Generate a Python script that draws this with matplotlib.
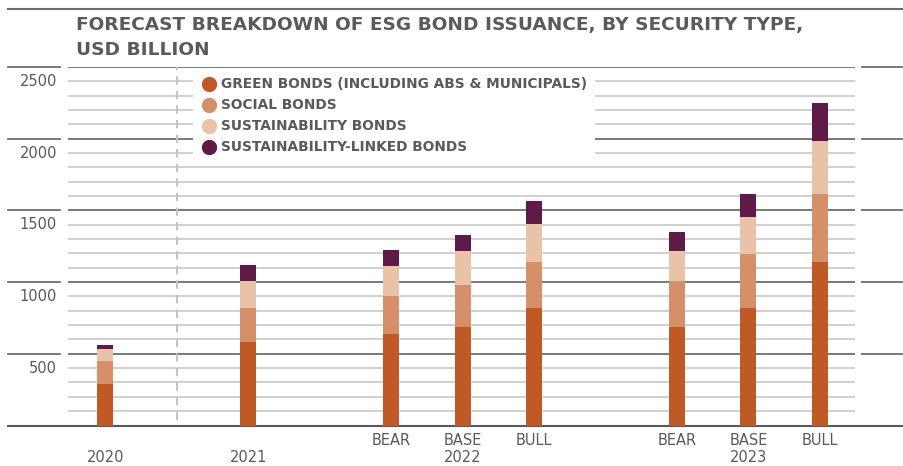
import matplotlib.pyplot as plt
import matplotlib.transforms as mtransforms
from matplotlib.lines import Line2D

# data (USD billion)
years = ["2020", "2021", "2022", "2022", "2022", "2023", "2023", "2023"]
scenarios = ["", "", "BEAR", "BASE", "BULL", "BEAR", "BASE", "BULL"]
green = [287, 580, 638, 687, 819, 686, 818, 1139]
social = [161, 238, 265, 293, 321, 320, 377, 474]
sustainability = [83, 189, 209, 237, 265, 210, 258, 370]
linked = [28, 112, 112, 111, 161, 132, 160, 265]

series_names = ["GREEN BONDS (INCLUDING ABS & MUNICIPALS)", "SOCIAL BONDS",
                "SUSTAINABILITY BONDS", "SUSTAINABILITY-LINKED BONDS"]
colors = ["#BF5A27", "#D59069", "#E8C3A8", "#5F1A47"]
y_labels = [500, 1000, 1500, 2000, 2500]

TXT = "#5A5A5E"
DARK = "#6E6E70"
LIGHT = "#CDCDCD"

# one slot gap between years, bars of the same year side by side
pos = []
for i, y in enumerate(years):
    if i == 0:
        pos.append(0)
    else:
        pos.append(pos[-1] + (1 if y == years[i - 1] else 2))

fig = plt.figure(figsize=(9.04, 4.66), dpi=100)
W, H = 904, 466
ax = fig.add_axes([68 / W, 40.5 / H, 787 / W, 358.5 / H])
ax.set_xlim(-0.52, 10.49)
ax.set_ylim(0, 2500)
for s in ax.spines.values():
    s.set_visible(False)
ax.set_xticks([])
ax.set_yticks([])

# grid
for v in range(100, 2501, 100):
    if v % 500 == 0:
        ax.axhline(v, color=DARK, lw=1.3, zorder=1)
    else:
        ax.axhline(v, color=LIGHT, lw=1.3, zorder=1)

# major lines continue outside the plot, with small gaps
tr = mtransforms.blended_transform_factory(fig.transFigure, ax.transData)
for v in y_labels:
    ax.plot([8 / W, 60 / W], [v, v], color=DARK, lw=1.3, transform=tr, clip_on=False)
    ax.plot([862 / W, 1], [v, v], color=DARK, lw=1.3, transform=tr, clip_on=False)
    ax.text(57 / W, v - 100, str(v), transform=tr, ha="right", va="center",
            fontsize=10.5, color=TXT)
ax.plot([8 / W, 1], [0, 0], color="#5A5A5A", lw=1.5, transform=tr, clip_on=False)
fig.add_artist(Line2D([8 / W, 1], [1 - 9 / H, 1 - 9 / H], color="#6A6A6A", lw=1.5))

# dashed separator between actuals and forecasts
ax.axvline(1, ymin=0.015, ymax=1, color="#C4C4C4", lw=1.5, ls=(0, (4, 3)), zorder=1)

# stacked bars
bottom = [0] * len(pos)
for vals, name, c in zip([green, social, sustainability, linked], series_names, colors):
    ax.bar(pos, vals, bottom=bottom, width=0.224, color=c, label=name, zorder=3)
    bottom = [b + v for b, v in zip(bottom, vals)]

# x labels
trx = mtransforms.blended_transform_factory(ax.transData, fig.transFigure)
for p, s in zip(pos, scenarios):
    if s:
        ax.text(p, 1 - 440.5 / H, s, transform=trx, ha="center", va="center",
                fontsize=10.5, color=TXT)
for y in dict.fromkeys(years):
    ps = [p for p, yy in zip(pos, years) if yy == y]
    ax.text(sum(ps) / len(ps), 1 - 458 / H, y, transform=trx, ha="center",
            va="center", fontsize=10.5, color=TXT)

# legend
handles = [Line2D([], [], marker="o", ls="", markersize=10, color=c) for c in colors]
leg = ax.legend(handles, series_names, loc="upper left", bbox_to_anchor=(0.159, 0.992),
                borderaxespad=0, frameon=True, fancybox=False, framealpha=1,
                edgecolor="none", facecolor="white", handletextpad=0.3,
                labelspacing=0.51, borderpad=0.55, handlelength=1.2,
                prop={"weight": "bold", "size": 9.9})
for t in leg.get_texts():
    t.set_color(TXT)
leg.set_zorder(5)

# title
fig.text(76 / W, 1 - 25 / H, "FORECAST BREAKDOWN OF ESG BOND ISSUANCE, BY SECURITY TYPE,",
         fontsize=13.3, weight="bold", color=TXT, va="center")
fig.text(76 / W, 1 - 50 / H, "USD BILLION", fontsize=13.3, weight="bold", color=TXT,
         va="center")

fig.savefig("out.png", dpi=100)
